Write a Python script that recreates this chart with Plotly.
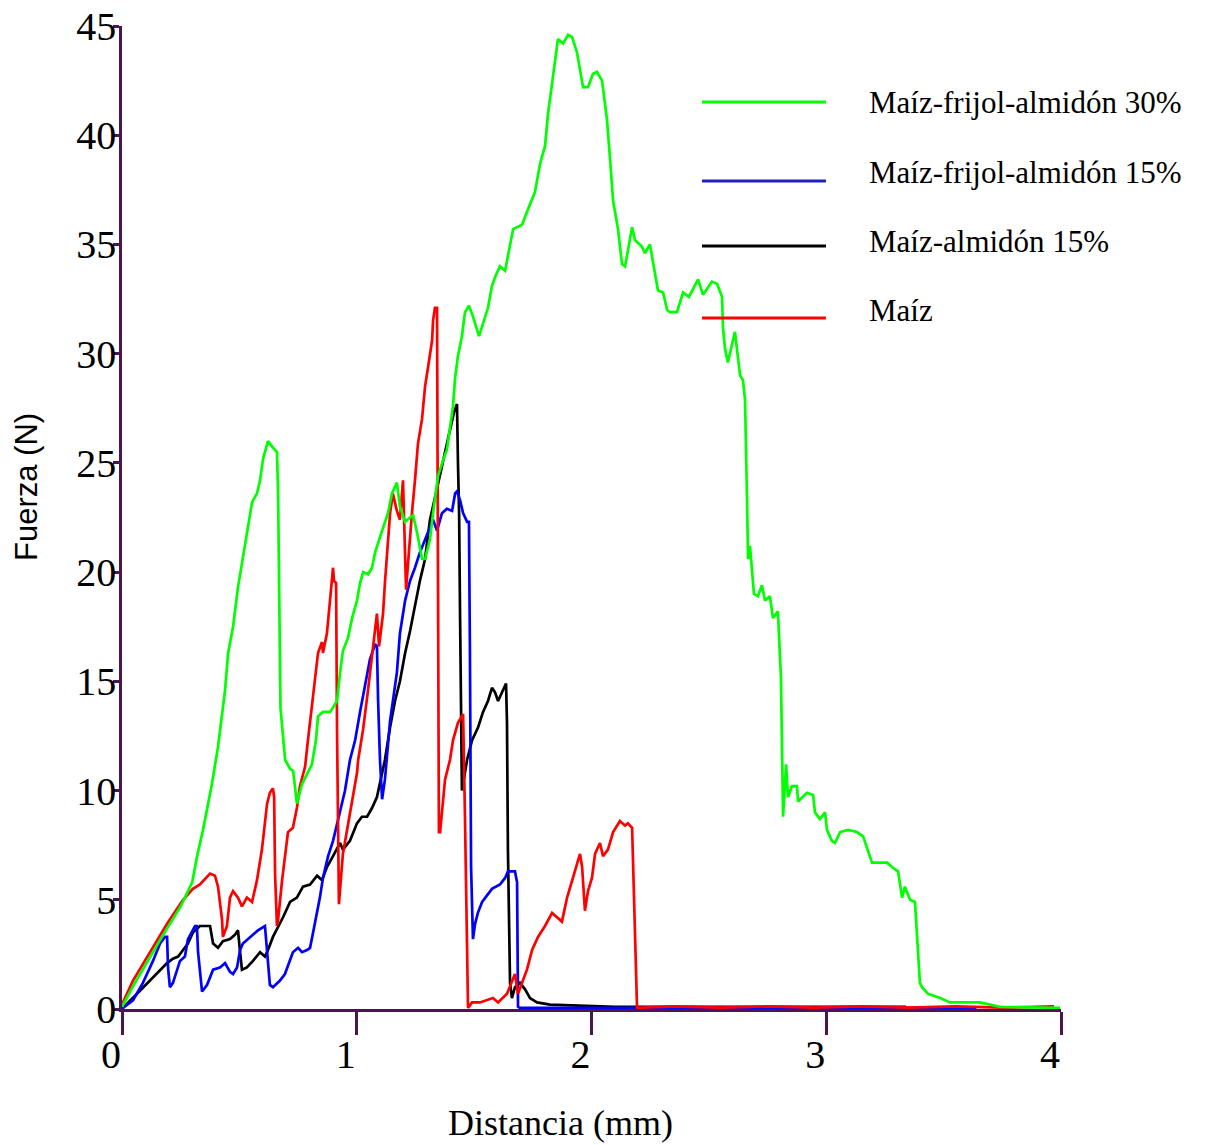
import plotly.graph_objects as go

# ---------------- data ----------------
green_x = [0, 0.05, 0.17, 0.25, 0.299, 0.32, 0.345, 0.383, 0.409, 0.43, 0.439, 0.452, 0.473, 0.494,
           0.511, 0.524, 0.537, 0.554, 0.575, 0.588, 0.601, 0.618, 0.622, 0.643, 0.660, 0.665, 0.669,
           0.673, 0.675, 0.695, 0.716, 0.729, 0.745, 0.767, 0.780, 0.809, 0.826, 0.835, 0.856, 0.886,
           0.899, 0.916, 0.929, 0.941, 0.963, 0.980, 1.001, 1.014, 1.027, 1.048, 1.065, 1.078, 1.099,
           1.120, 1.133, 1.150, 1.171, 1.184, 1.206, 1.227, 1.240, 1.257, 1.278, 1.291, 1.312, 1.325,
           1.346, 1.367, 1.384, 1.397, 1.410, 1.419, 1.431, 1.448, 1.461, 1.478, 1.495, 1.521, 1.538,
           1.559, 1.576, 1.589, 1.610, 1.632, 1.666, 1.704, 1.729, 1.759, 1.781, 1.802, 1.815, 1.832,
           1.849, 1.857, 1.879, 1.900, 1.917, 1.938, 1.964, 1.985, 2.006, 2.023, 2.045, 2.066, 2.079,
           2.092, 2.113, 2.130, 2.143, 2.173, 2.185, 2.215, 2.228, 2.249, 2.262, 2.283, 2.305, 2.322,
           2.334, 2.364, 2.390, 2.415, 2.454, 2.475, 2.513, 2.535, 2.556, 2.560, 2.569, 2.581, 2.611,
           2.624, 2.633, 2.645, 2.654, 2.662, 2.667, 2.675, 2.692, 2.709, 2.726, 2.739, 2.760, 2.773,
           2.794, 2.807, 2.812, 2.816, 2.829, 2.837, 2.854, 2.875, 2.880, 2.901, 2.918, 2.944, 2.952,
           2.973, 2.995, 3.003, 3.024, 3.037, 3.059, 3.093, 3.131, 3.157, 3.178, 3.195, 3.229, 3.259,
           3.280, 3.306, 3.323, 3.335, 3.357, 3.378, 3.387, 3.399, 3.408, 3.433, 3.485, 3.527, 3.655,
           3.740, 3.996]
green_y = [0.1, 1.1, 3.3, 4.7, 5.8, 7.0, 8.2, 10.3, 12.0, 13.8, 14.6, 16.3, 17.5, 19.3,
           20.4, 21.3, 22.1, 23.2, 23.6, 24.2, 25.2, 25.9, 26.0, 25.7, 25.5, 23.6, 18.7,
           14.1, 13.8, 11.4, 11.0, 10.9, 9.4, 10.3, 10.6, 11.2, 12.3, 13.4, 13.6, 13.6,
           13.8, 14.1, 15.4, 16.4, 17.0, 17.9, 18.7, 19.5, 20.0, 19.9, 20.2, 20.9, 21.6,
           22.3, 22.7, 23.6, 24.1, 23.0, 22.3, 22.5, 22.6, 21.8, 20.6, 20.6, 21.5, 22.7,
           24.4, 25.1, 25.6, 26.6, 27.6, 28.9, 29.9, 30.8, 31.9, 32.2, 31.7, 30.8, 31.4,
           32.1, 33.1, 33.5, 34.0, 33.8, 35.7, 35.9, 36.6, 37.4, 38.7, 39.5, 41.0, 42.4,
           43.8, 44.4, 44.2, 44.6, 44.5, 43.8, 42.2, 42.2, 42.8, 42.9, 42.5, 40.7, 38.9,
           37.0, 35.7, 34.1, 34.0, 35.8, 35.2, 34.9, 34.6, 35.0, 34.2, 32.9, 32.8, 32.0,
           31.9, 31.9, 32.8, 32.6, 33.4, 32.7, 33.3, 33.2, 32.6, 31.2, 30.2, 29.6, 31.0,
           29.7, 29.0, 28.8, 27.9, 23.6, 20.6, 21.2, 19.0, 18.9, 19.4, 18.7, 18.9, 17.9,
           18.2, 15.2, 10.0, 8.8, 11.2, 9.7, 10.2, 10.2, 9.5, 9.7, 9.9, 9.8, 9.0,
           8.7, 9.0, 8.2, 7.7, 7.6, 8.1, 8.2, 8.1, 7.9, 7.2, 6.7, 6.7, 6.7,
           6.5, 6.3, 5.1, 5.6, 5.0, 4.9, 3.3, 1.2, 1.0, 0.7, 0.5, 0.3, 0.3,
           0.1, 0.05]

blue_x = [0, 0.004, 0.047, 0.089, 0.132, 0.162, 0.183, 0.192, 0.196, 0.204, 0.217, 0.247, 0.268,
          0.281, 0.311, 0.319, 0.324, 0.341, 0.362, 0.388, 0.417, 0.439, 0.460, 0.473, 0.490, 0.503,
          0.515, 0.545, 0.579, 0.609, 0.618, 0.630, 0.643, 0.673, 0.694, 0.716, 0.728, 0.750, 0.767,
          0.788, 0.801, 0.814, 0.831, 0.843, 0.856, 0.878, 0.899, 0.920, 0.929, 0.950, 0.971, 0.993,
          1.014, 1.035, 1.056, 1.078, 1.086, 1.091, 1.099, 1.108, 1.120, 1.142, 1.163, 1.171, 1.184,
          1.206, 1.227, 1.248, 1.269, 1.291, 1.304, 1.325, 1.342, 1.363, 1.384, 1.406, 1.419, 1.427,
          1.440, 1.453, 1.470, 1.478, 1.482, 1.487, 1.495, 1.504, 1.516, 1.534, 1.555, 1.576, 1.610,
          1.632, 1.644, 1.674, 1.683, 1.687, 1.695, 1.9, 2.2, 2.5, 2.8, 3.1, 3.4, 3.64]
blue_y = [0, 0.05, 0.4, 1.2, 2.2, 3.0, 3.3, 3.3, 1.9, 1.0, 1.2, 2.2, 2.4,
          3.2, 3.8, 3.8, 2.6, 0.8, 1.1, 1.8, 1.9, 2.1, 1.7, 1.6, 1.9, 2.7,
          3.0, 3.3, 3.6, 3.8, 2.7, 1.1, 1.0, 1.3, 1.6, 2.2, 2.6, 2.8, 2.6,
          2.7, 2.8, 3.5, 4.4, 5.1, 6.0, 7.0, 7.7, 8.7, 9.0, 10.0, 11.4, 12.3,
          13.6, 14.9, 16.0, 16.7, 16.6, 14.1, 11.4, 9.6, 10.5, 13.2, 14.7, 15.4, 17.2,
          18.7, 19.6, 20.2, 20.9, 21.5, 21.9, 22.4, 21.9, 22.7, 22.9, 22.8, 23.6, 23.7,
          23.3, 22.7, 22.3, 22.3, 16.6, 6.5, 3.2, 3.9, 4.4, 4.9, 5.2, 5.5, 5.7,
          6.0, 6.3, 6.3, 5.8, 0.1, 0.05, 0.05, 0.08, 0.05, 0.08, 0.05, 0.08, 0.05]

black_x = [0, 0.004, 0.064, 0.119, 0.162, 0.192, 0.217, 0.239, 0.260, 0.281, 0.302, 0.332, 0.354,
           0.375, 0.388, 0.409, 0.430, 0.460, 0.481, 0.494, 0.503, 0.511, 0.532, 0.558, 0.588, 0.609,
           0.622, 0.643, 0.686, 0.716, 0.745, 0.771, 0.801, 0.831, 0.852, 0.873, 0.899, 0.929, 0.941,
           0.971, 1.001, 1.022, 1.044, 1.065, 1.086, 1.099, 1.120, 1.142, 1.163, 1.184, 1.206, 1.227,
           1.248, 1.269, 1.291, 1.312, 1.333, 1.355, 1.376, 1.397, 1.414, 1.427, 1.431, 1.436, 1.440,
           1.448, 1.470, 1.491, 1.517, 1.538, 1.559, 1.576, 1.589, 1.602, 1.619, 1.636, 1.640, 1.644,
           1.653, 1.661, 1.674, 1.695, 1.717, 1.738, 1.768, 1.823, 2.1, 2.5, 2.9, 3.34]
black_y = [0, 0.05, 0.7, 1.3, 1.8, 2.1, 2.3, 2.4, 2.7, 3.0, 3.5, 3.8, 3.8,
           3.8, 3.0, 2.8, 3.1, 3.2, 3.4, 3.6, 2.6, 1.8, 1.9, 2.2, 2.6, 2.4,
           2.7, 3.3, 4.2, 4.9, 5.1, 5.6, 5.7, 6.1, 5.9, 6.5, 7.0, 7.6, 7.3,
           7.7, 8.5, 8.8, 8.8, 9.2, 9.7, 10.3, 11.4, 12.9, 14.1, 15.0, 16.3, 17.3,
           18.5, 19.6, 20.6, 22.4, 23.4, 24.5, 25.6, 26.5, 27.3, 27.7, 25.1, 22.7, 18.1,
           10.0, 11.4, 12.3, 12.9, 13.6, 14.1, 14.7, 14.5, 14.1, 14.5, 14.9, 13.1, 7.3,
           1.2, 0.5, 1.0, 1.2, 0.9, 0.5, 0.3, 0.2, 0.1, 0.1, 0.1, 0.1]

red_x = [0, 0.004, 0.047, 0.119, 0.192, 0.26, 0.302, 0.332, 0.375, 0.396, 0.409, 0.426, 0.43,
         0.447, 0.46, 0.473, 0.494, 0.511, 0.532, 0.554, 0.575, 0.596, 0.609, 0.618, 0.630, 0.643,
         0.648, 0.652, 0.660, 0.665, 0.682, 0.694, 0.707, 0.728, 0.745, 0.758, 0.780, 0.792, 0.809,
         0.822, 0.835, 0.852, 0.856, 0.873, 0.886, 0.899, 0.903, 0.912, 0.916, 0.920, 0.924, 0.941,
         0.971, 1.001, 1.006, 1.027, 1.048, 1.069, 1.086, 1.095, 1.112, 1.120, 1.129, 1.142, 1.154,
         1.171, 1.184, 1.197, 1.210, 1.218, 1.235, 1.248, 1.261, 1.278, 1.291, 1.304, 1.321, 1.325,
         1.333, 1.342, 1.346, 1.350, 1.355, 1.376, 1.397, 1.410, 1.431, 1.453, 1.461, 1.474, 1.491,
         1.525, 1.580, 1.602, 1.640, 1.661, 1.674, 1.687, 1.704, 1.725, 1.747, 1.772, 1.802, 1.832,
         1.853, 1.874, 1.896, 1.917, 1.938, 1.951, 1.960, 1.972, 1.985, 2.002, 2.015, 2.036, 2.049,
         2.070, 2.092, 2.121, 2.143, 2.155, 2.173, 2.177, 2.194, 2.35, 2.55, 2.75, 2.95, 3.15,
         3.35, 3.55, 3.75, 3.97]
red_y = [0.1, 0.3, 1.3, 2.6, 3.9, 5.0, 5.5, 5.7, 6.2, 6.1, 5.6, 4.1, 3.3,
         3.8, 5.1, 5.4, 5.1, 4.7, 5.1, 4.9, 5.9, 7.3, 8.5, 9.4, 9.9, 10.1,
         9.7, 6.2, 3.8, 4.1, 5.9, 7.1, 8.1, 8.3, 9.2, 10.2, 11.1, 12.3, 13.8,
         15.0, 16.3, 16.8, 16.3, 17.2, 18.7, 20.2, 19.6, 19.5, 12.8, 6.8, 4.8, 7.1,
         9.0, 10.8, 11.4, 12.8, 14.6, 16.6, 18.1, 16.6, 18.1, 19.5, 20.9, 22.7, 23.6,
         22.8, 22.4, 24.2, 19.2, 20.4, 22.7, 24.2, 25.9, 27.0, 28.5, 29.4, 30.6, 31.5,
         32.1, 32.1, 12.8, 8.1, 8.1, 10.5, 11.4, 12.3, 13.1, 13.5, 8.8, 0.05, 0.3,
         0.3, 0.5, 0.3, 0.7, 1.3, 1.6, 0.7, 1.2, 1.8, 2.7, 3.3, 3.8, 4.4,
         4.2, 4.0, 5.1, 5.9, 6.7, 7.1, 6.5, 4.5, 5.4, 6.0, 7.1, 7.6, 7.0,
         7.3, 8.1, 8.6, 8.4, 8.5, 8.3, 6.5, 0.05, 0.12, 0.06, 0.12, 0.06, 0.12,
         0.06, 0.12, 0.06, 0.12]

series_names = ["Maíz-frijol-almidón 30%", "Maíz-frijol-almidón 15%", "Maíz-almidón 15%", "Maíz"]
series_colors = ["#00FF00", "#0000FF", "#000000", "#FF0000"]
legend_colors = ["#00FF00", "#2020C0", "#000000", "#FF0000"]
x_ticks = [0, 1, 2, 3, 4]
y_ticks = [0, 5, 10, 15, 20, 25, 30, 35, 40, 45]

AXIS = "#4B1650"
SERIF = "Liberation Serif, Times New Roman, serif"
SANS = "Liberation Sans, Arial, sans-serif"

fig = go.Figure()
draw_order = [(black_x, black_y, 2), (blue_x, blue_y, 1), (red_x, red_y, 3), (green_x, green_y, 0)]
for xs, ys, idx in draw_order:
    fig.add_trace(go.Scatter(x=xs, y=ys, mode="lines", name=series_names[idx],
                             line=dict(color=series_colors[idx], width=2.7, shape="linear"),
                             showlegend=False, hoverinfo="skip"))

# manual legend (long sample lines as in the reference)
leg_line_y = [0.9227, 0.8423, 0.7762, 0.7029]
leg_text_y = [0.9217, 0.8505, 0.7803, 0.7101]
for i in range(4):
    fig.add_shape(type="line", xref="paper", yref="paper", x0=0.6177, x1=0.7497,
                  y0=leg_line_y[i], y1=leg_line_y[i], line=dict(color=legend_colors[i], width=3))
    fig.add_annotation(xref="paper", yref="paper", x=0.7934, y=leg_text_y[i], text=series_names[i],
                       showarrow=False, xanchor="left", yanchor="middle",
                       font=dict(family=SERIF, size=31, color="#000000"))

# axis titles
fig.add_annotation(xref="paper", yref="paper", x=(560 - 122) / 939, y=(1009 - 1123) / 983,
                   text="Distancia (mm)", showarrow=False, xanchor="center", yanchor="middle",
                   font=dict(family=SERIF, size=36, color="#000000"))
fig.add_annotation(xref="paper", yref="paper", x=(27 - 122) / 939, y=(1009 - 487) / 983,
                   text="Fuerza (N)", showarrow=False, xanchor="center", yanchor="middle",
                   textangle=-90, font=dict(family=SANS, size=31, color="#000000"))

fig.update_layout(
    template="none",
    width=1205, height=1145,
    margin=dict(l=122, r=144, t=26, b=136, pad=0, autoexpand=False),
    paper_bgcolor="white", plot_bgcolor="white",
    showlegend=False,
    xaxis=dict(range=[0, 4], tickvals=x_ticks, ticktext=[str(v) for v in x_ticks],
               automargin=False,
               showgrid=False, zeroline=False, showline=True, linecolor=AXIS, linewidth=2.5,
               ticks="outside", ticklen=23, tickwidth=2.5, tickcolor=AXIS,
               tickfont=dict(family=SERIF, size=40, color="#000000"),
               ticklabelshift=-11, ticklabelstandoff=-15),
    yaxis=dict(range=[0, 45], tickvals=y_ticks, ticktext=[str(v) for v in y_ticks],
               automargin=False,
               showgrid=False, zeroline=False, showline=True, linecolor=AXIS, linewidth=2.5,
               ticks="outside", ticklen=6, tickwidth=2.5, tickcolor=AXIS,
               tickfont=dict(family=SERIF, size=40, color="#000000"),
               ticklabelstandoff=-11),
)

fig.write_html("out.html")
